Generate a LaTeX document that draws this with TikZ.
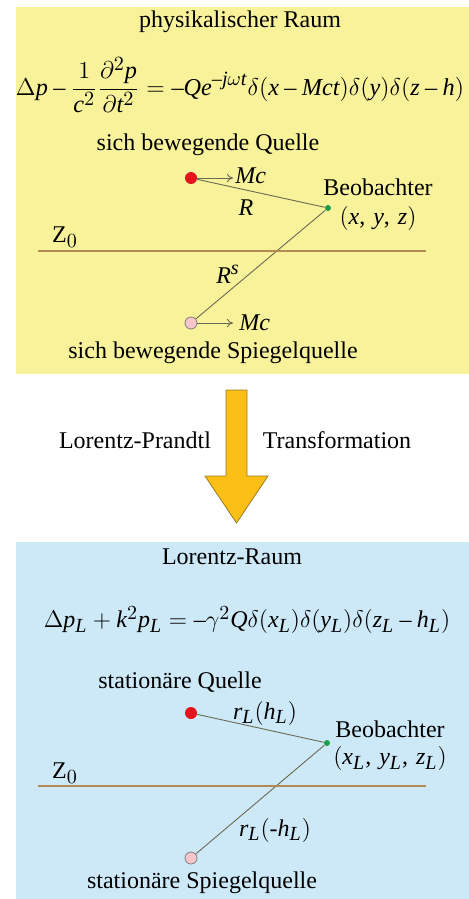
\documentclass[tikz,border=0pt]{standalone}
\usepackage{amsmath,amssymb}
\usepackage{fontspec}
\setmainfont{Liberation Serif}
\usepackage[italic]{mathastext}
\usepackage{tikz}
\usetikzlibrary{arrows.meta,positioning}
\usepackage{xcolor}
\definecolor{PhysYellow}{HTML}{F8F29B}
\definecolor{LorentzBlue}{HTML}{CDE9F7}
\definecolor{GroundBrown}{HTML}{B58A52}
\definecolor{ArrowGold}{HTML}{FBBF16}
\definecolor{ArrowEdge}{HTML}{9A7A20}
\definecolor{SourceRed}{HTML}{E5141C}
\definecolor{MirrorPink}{HTML}{F7C5CC}
\definecolor{ObsGreen}{HTML}{1E9E45}
\definecolor{RayGray}{HTML}{6A6A52}

\begin{document}
\begin{tikzpicture}[x=0.5pt,y=-0.5pt,
                    every node/.style={font=\fontsize{12}{14}\selectfont,inner sep=1pt},
                    ray/.style={draw=RayGray,line width=0.45pt},
                    velo/.style={-{To[length=3pt,width=4pt]},draw=RayGray,line width=0.45pt},
                    ground/.style={draw=GroundBrown,line width=1.1pt},
                    srcdot/.style={circle,fill=SourceRed,inner sep=0pt,minimum size=6pt},
                    imgdot/.style={circle,fill=MirrorPink,draw=gray,line width=0.4pt,
                                   inner sep=0pt,minimum size=6pt},
                    obsdot/.style={circle,fill=ObsGreen,inner sep=0pt,minimum size=3pt}]
  \useasboundingbox (0,0) rectangle (469,899);
  \fill[PhysYellow] (16,7) rectangle (469,374);
  \fill[LorentzBlue] (16,542) rectangle (469,899);

  % physikalischer Raum
  \node (title) at (240,22) {physikalischer Raum};
  \node (eq) at (240,85)
    {\resizebox{224pt}{!}{$\displaystyle \Delta p-\frac{1}{c^{2}}\frac{\partial^{2}p}{\partial t^{2}}
      =-Qe^{-j\omega t}\delta(x-Mct)\delta(y)\delta(z-h)$}};
  \node (quelle) at (208,145) {sich bewegende Quelle};
  \node[srcdot] (src) at (191,178) {};
  \node[obsdot] (obs) at (328,208) {};
  \node[imgdot] (img) at (191,323) {};
  \coordinate (vsrc) at (233,178);
  \coordinate (vimg) at (233,323);
  \draw[velo] (src) -- (vsrc);
  \draw[velo] (img) -- (vimg);
  \node[right=0pt of vsrc,yshift=1pt] (mc) {$Mc$};
  \node[right=2pt of vimg] (mcs) {$Mc$};
  \draw[ray] (src) -- (obs);
  \draw[ray] (img) -- (obs);
  \node (beob) at (378,187) {Beobachter};
  \node[below=3pt of beob] (xyz) {$(x,\,y,\,z)$};
  \node (r) at (246,208) {$R$};
  \node (rs) at (228,274) {$R^{s}$};
  \node (z) at (65,237) {Z$_0$};
  \coordinate (ga) at (38,251);
  \coordinate (gb) at (426,251);
  \draw[ground] (ga) -- (gb);
  \node (spiegel) at (213,353) {sich bewegende Spiegelquelle};

  % Transformation
  \draw[fill=ArrowGold,draw=ArrowEdge,line width=0.4pt]
    (226,390) -- (247,390) -- (247,476) -- (268,476) -- (236.5,523)
    -- (205,476) -- (226,476) -- cycle;
  \node (lp) at (135,440) {Lorentz-Prandtl};
  \node (trafo) at (337,440) {Transformation};

  % Lorentz-Raum
  \node (titleL) at (232,557) {Lorentz-Raum};
  \node (eqL) at (247,620)
    {$\Delta p_{L}+k^{2}p_{L}=-\gamma^{2}Q\delta(x_{L})\delta(y_{L})\delta(z_{L}-h_{L})$};
  \node (quelleL) at (180,682) {stationäre Quelle};
  \node[srcdot] (srcL) at (191,713) {};
  \node[obsdot] (obsL) at (327,743) {};
  \node[imgdot] (imgL) at (191,858) {};
  \draw[ray] (srcL) -- (obsL);
  \draw[ray] (imgL) -- (obsL);
  \node (rh) at (265,713) {$r_{L}(h_{L})$};
  \node (rmh) at (275,830) {$r_{L}(\text{-}h_{L})$};
  \node (beobL) at (390,729) {Beobachter};
  \node[below=2pt of beobL] (xyzL) {$(x_{L},\,y_{L},\,z_{L})$};
  \node (zL) at (65,773) {Z$_0$};
  \coordinate (gLa) at (38,786);
  \coordinate (gLb) at (426,786);
  \draw[ground] (gLa) -- (gLb);
  \node (spiegelL) at (202,883) {stationäre Spiegelquelle};
\end{tikzpicture}
\end{document}
